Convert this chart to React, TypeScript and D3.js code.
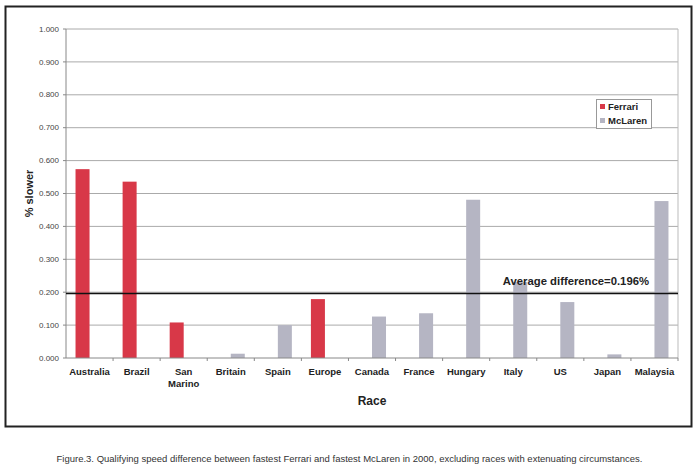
import React from "react";
import * as d3 from "d3";

const races = ["Australia", "Brazil", "San Marino", "Britain", "Spain", "Europe", "Canada", "France", "Hungary", "Italy", "US", "Japan", "Malaysia"];
const seriesNames = ["Ferrari", "McLaren"];
const ferrari: (number | null)[] = [0.574, 0.536, 0.108, null, null, 0.179, null, null, null, null, null, null, null];
const mclaren: (number | null)[] = [null, null, null, 0.013, 0.100, null, 0.126, 0.136, 0.481, 0.231, 0.170, 0.011, 0.477];
const yTicks = [0, 0.1, 0.2, 0.3, 0.4, 0.5, 0.6, 0.7, 0.8, 0.9, 1.0];
const averageDiff = 0.196;
const caption = "Figure.3. Qualifying speed difference between fastest Ferrari and fastest McLaren in 2000, excluding races with extenuating circumstances.";

const W = 700, H = 469;
const left = 66, right = 678, top = 29, bottom = 358;
const colors = ["#d83848", "#b5b5c3"];
const font = "'Liberation Sans', Arial, sans-serif";

export default function App() {
  const x = d3.scaleBand<string>().domain(races).range([left, right]).padding(0);
  const x1 = d3.scaleBand<string>().domain(seriesNames).range([0, x.bandwidth()]).paddingInner(0).paddingOuter(0.68);
  const y = d3.scaleLinear().domain([0, 1]).range([bottom, top]);
  const series = [ferrari, mclaren];
  const fmt = d3.format(".3f");

  return (
    <svg width={W} height={H} style={{ position: "absolute", left: 0, top: 0, background: "#fff" }} fontFamily={font}>
      <rect x={0} y={0} width={W} height={H} fill="#fff" />
      {/* outer frame */}
      <rect x={5.5} y={6.5} width={686} height={420} fill="none" stroke="#222" strokeWidth={2} />
      {/* grid */}
      {yTicks.map((t) => (
        <g key={t}>
          {t > 0 && <line x1={left} x2={right} y1={y(t)} y2={y(t)} stroke="#aaa" strokeWidth={1} />}
          <line x1={left - 3} x2={left} y1={y(t)} y2={y(t)} stroke="#888" />
          <text x={left - 7} y={y(t)} dy="0.33em" textAnchor="end" fontSize={8} fill="#444">{fmt(t)}</text>
        </g>
      ))}
      <line x1={right} x2={right} y1={top} y2={bottom} stroke="#bbb" />
      {/* bars */}
      {series.map((vals, si) =>
        vals.map((v, i) =>
          v == null ? null : (
            <rect key={si + "-" + i} x={(x(races[i]) as number) + (x1(seriesNames[si]) as number)} y={y(v)} width={x1.bandwidth()} height={y(0) - y(v)} fill={colors[si]} />
          )
        )
      )}
      {/* axes */}
      <line x1={left} x2={left} y1={top} y2={bottom} stroke="#888" />
      <line x1={left} x2={right} y1={bottom} y2={bottom} stroke="#888" />
      {races.map((r, i) => (
        <line key={"t" + i} x1={(x(r) as number) + x.bandwidth()} x2={(x(r) as number) + x.bandwidth()} y1={bottom} y2={bottom + 3} stroke="#888" />
      ))}
      {races.map((r) => {
        const cx = (x(r) as number) + x.bandwidth() / 2;
        const parts = r === "San Marino" ? ["San", "Marino"] : [r];
        return (
          <text key={r} x={cx} y={375} textAnchor="middle" fontSize={9.5} fontWeight="bold" fill="#222">
            {parts.map((p, k) => (
              <tspan key={k} x={cx} dy={k === 0 ? 0 : 12}>{p}</tspan>
            ))}
          </text>
        );
      })}
      {/* average line */}
      <line x1={left} x2={right} y1={y(averageDiff)} y2={y(averageDiff)} stroke="#111" strokeWidth={1.3} />
      <text x={649} y={285} textAnchor="end" fontSize={11.3} fontWeight="bold" fill="#222">{"Average difference=" + averageDiff.toFixed(3) + "%"}</text>
      {/* axis titles */}
      <text transform={`translate(33,${(top + bottom) / 2}) rotate(-90)`} textAnchor="middle" fontSize={11} fontWeight="bold" fill="#222">% slower</text>
      <text x={(left + right) / 2} y={405} textAnchor="middle" fontSize={12} fontWeight="bold" fill="#222">Race</text>
      {/* legend */}
      <rect x={596.5} y={99.5} width={55} height={29} fill="#fff" stroke="#999" />
      {seriesNames.map((s, i) => (
        <g key={s}>
          <rect x={600} y={104 + i * 14} width={5} height={5} fill={colors[i]} />
          <text x={608} y={110 + i * 14} fontSize={9.5} fontWeight="bold" fill="#222">{s}</text>
        </g>
      ))}
      {/* caption */}
      <text x={349.5} y={462} textAnchor="middle" fontSize={9.5} fill="#333">{caption}</text>
    </svg>
  );
}
